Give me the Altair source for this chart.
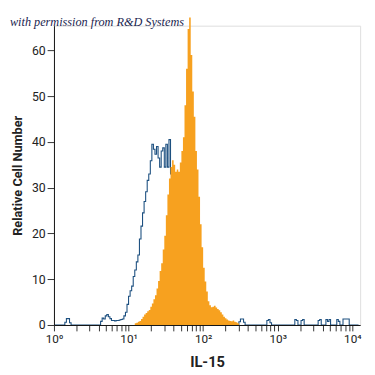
import altair as alt
import pandas as pd
import math

# histogram channels: 48 bins per decade, position = bin / 48 (log10 of IL-15 intensity)
BINS_PER_DECADE = 48

# isotype control (blue outline), counts per bin from bin 0
iso_counts = (
    [0] * 7
    + [0.6, 1.4, 1.4, 0.5]
    + [0] * 19
    + [0.8, 1.5, 1.3, 2.0, 2.3, 1.8, 1.4, 1.0, 1.0, 0.9,
       1.0, 1.0, 1.1, 1.2, 1.3, 2.0, 2.8, 4.5, 6.3, 7.5,
       8.5, 10.6, 12, 13.8, 15.3, 18.8, 21.6, 24.5, 27, 29.1,
       31.6, 33, 35.9, 39.5, 38.4, 37.3, 39, 36.5, 34.5, 38,
       38.7, 34.5, 39.5, 34.5, 40.5, 33, 30, 26, 22, 18,
       14, 10, 7, 5, 3.5, 2.5, 2, 1.5, 1, 0.8]
    + [0.5] * 11
    + [0] * 18
    + [0.7, 1.3, 1.3, 0.6]
    + [0] * 14
    + [1.0, 1.2, 0.5]
    + [0] * 15
    + [1.2, 1.0]
    + [0] * 2
    + [1.0, 1.2]
    + [0] * 9
    + [1.0, 1.2]
    + [0] * 3
    + [1.2, 0.8, 1.2]
    + [0] * 4
    + [1.2, 0.8]
    + [0] * 2
    + [1.3, 1.3, 1.3, 1.3]
    + [0] * 7
)

# IL-15 stained cells (orange filled), counts per bin starting at bin 51
il15_start = 51
il15_counts = [
    0, 0.4, 0.5, 0.7, 0.9, 1.3, 1.8, 2.3, 2.6, 3.0,
    3.3, 4.0, 4.7, 5.6, 6.5, 8.0, 9.6, 11.8, 13.5, 16.5,
    19.5, 24, 28.5, 32, 34.5, 36, 35, 33.5, 34, 33.5,
    35.5, 38, 41, 48, 56, 64.7, 67.2, 59, 51, 45.5,
    38, 34, 28, 22, 17, 12.5, 9.5, 7.3, 5.2, 4.3,
    3.9, 4.0, 4.2, 3.8, 3.5, 3.2, 2.8, 2.3, 1.8, 1.5,
    1.2, 1.0, 0.9, 0.8, 1.0, 0.7, 0.6, 0.4, 0,
]

y_ticks = [0, 10, 20, 30, 40, 50, 60]
decades = [0, 1, 2, 3, 4]
decade_labels = ["10⁰", "10¹", "10²", "10³", "10⁴"]
watermark = "with permission from R&D Systems"
x_title = "IL-15"
y_title = "Relative Cell Number"

iso_df = pd.DataFrame({
    "pos": [i / BINS_PER_DECADE for i in range(len(iso_counts))],
    "count": iso_counts,
})
il15_df = pd.DataFrame({
    "pos": [(il15_start + i) / BINS_PER_DECADE for i in range(len(il15_counts))],
    "count": il15_counts,
})

x_tick_vals = [round(d + math.log10(k), 6) for d in decades[:-1] for k in range(1, 10)] + [decades[-1]]
label_expr = "".join(f"datum.value == {d} ? '{lab}' : " for d, lab in zip(decades, decade_labels)) + "''"

FONT = "Roboto, Liberation Sans, sans-serif"

x_scale = alt.Scale(domain=[0, 4.105], nice=False, zero=False)
y_scale = alt.Scale(domain=[0, 65.4], nice=False)

x_axis = alt.Axis(
    values=x_tick_vals,
    labelExpr=label_expr,
    title=x_title, grid=False, tickSize=6, tickColor="#333", domainColor="#111",
    labelFont=FONT, labelFontSize=12, labelColor="#222", labelPadding=3,
    labelOverlap=False, labelFlush=False,
    titleFont=FONT, titleFontSize=15, titleFontWeight="bold", titleColor="#222",
    titlePadding=10, zindex=1,
)
y_axis = alt.Axis(
    values=y_ticks, title=y_title, grid=False, tickSize=7, tickColor="#333",
    domainColor="#111", labelFont=FONT, labelFontSize=12.5, labelColor="#222",
    labelPadding=2, labelFlush=False, titleFont=FONT, titleFontSize=13,
    titleFontWeight="bold", titleColor="#222", titlePadding=7, zindex=1,
)

iso = alt.Chart(iso_df).mark_line(
    interpolate="step-after", color="#1d5080", strokeWidth=1.1, clip=False
).encode(
    x=alt.X("pos:Q", scale=x_scale, axis=x_axis),
    y=alt.Y("count:Q", scale=y_scale, axis=y_axis),
)

il15 = alt.Chart(il15_df).mark_area(
    interpolate="step-after", color="#F7A11F", opacity=1, clip=False
).encode(
    x=alt.X("pos:Q", scale=x_scale, axis=x_axis),
    y=alt.Y("count:Q", scale=y_scale, axis=y_axis),
)

note = alt.Chart(pd.DataFrame({"t": [watermark]})).mark_text(
    align="left", baseline="middle", font="Liberation Serif", fontStyle="italic",
    fontSize=12.5, color="#1a2550",
).encode(
    text="t:N", x=alt.value(-45), y=alt.value(-4),
)

chart = alt.layer(iso, il15, note).properties(
    width=313, height=306,
    autosize=alt.AutoSizeParams(type="none"),
    padding={"left": 47, "top": 14, "right": 7, "bottom": 45},
).configure_view(stroke=None).configure(background="white")

chart.save("out.html", embed_options={"renderer": "svg", "actions": False})
